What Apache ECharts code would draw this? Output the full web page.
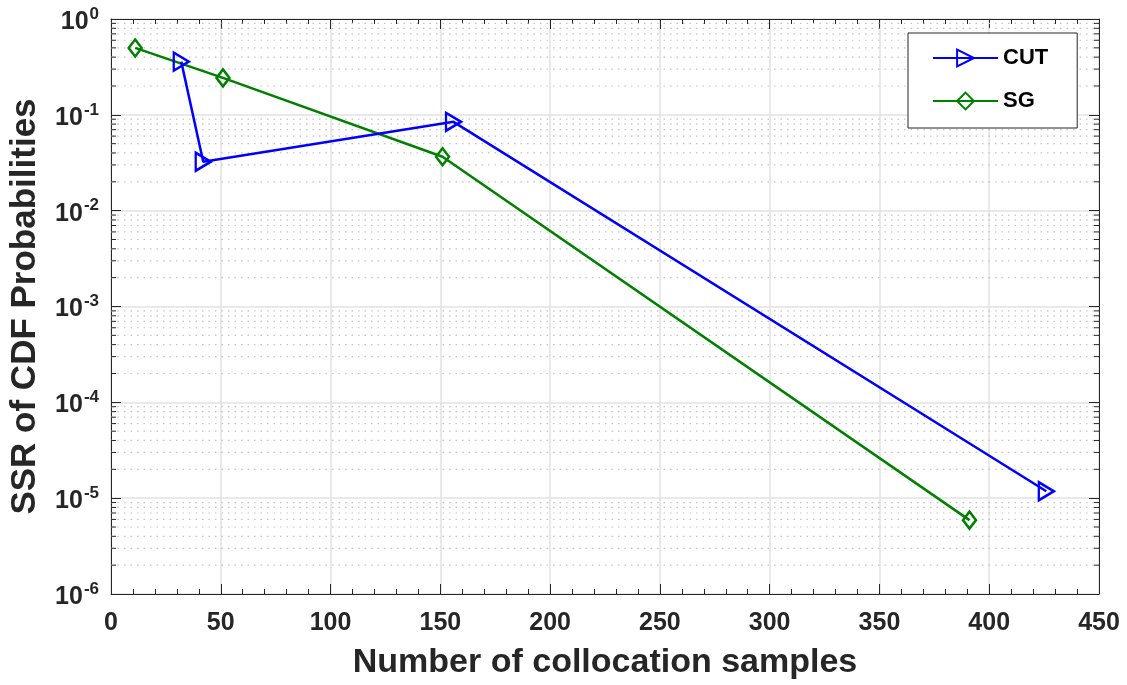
<!DOCTYPE html>
<html>
<head>
<meta charset="utf-8">
<title>SSR of CDF Probabilities</title>
<script src="https://cdn.jsdelivr.net/npm/echarts@6/dist/echarts.min.js"></script>
<style>
  html, body { margin: 0; padding: 0; background: #ffffff; }
  #chart { width: 1127px; height: 685px; }
</style>
</head>
<body>
<div id="chart"></div>
<script>
// Number of collocation samples and the resulting SSR for each method
const cutSamples = [32, 42, 156, 426];
const cutSSR = [0.359, 0.0324, 0.0845, 1.18e-5];
const sgSamples = [11, 51, 151, 391];
const sgSSR = [0.499, 0.243, 0.0365, 5.9e-6];

// Axis ranges and tick settings
const xMin = 0, xMax = 450, xStep = 50;
const yMinExp = -6, yMaxExp = 0;
const seriesNames = ['CUT', 'SG'];

const FONT = '"Liberation Sans", Arial, Helvetica, sans-serif';
const INK = '#262626';

// Minor log positions (2..9 x 10^n) for the dotted grid and minor ticks
const minorLog = [];
for (let e = yMinExp; e < yMaxExp; e++) {
  for (let k = 2; k <= 9; k++) minorLog.push([xMin, k * Math.pow(10, e)]);
}

const pairs = (xs, ys) => xs.map((x, i) => [x, ys[i]]);

const chart = echarts.init(document.getElementById('chart'), null, { renderer: 'canvas' });

const xCommon = {
  type: 'value', min: xMin, max: xMax, interval: xStep,
  axisLine: { show: true, onZero: false, lineStyle: { color: INK, width: 1 } },
  axisTick: { show: true, inside: true, length: 10, lineStyle: { color: INK } },
  minorTick: { show: true, splitNumber: 5, length: 5, lineStyle: { color: INK } }
};
const yCommon = {
  type: 'log', logBase: 10,
  min: Math.pow(10, yMinExp), max: Math.pow(10, yMaxExp), interval: 1,
  axisLine: { show: true, onZero: false, lineStyle: { color: INK, width: 1 } },
  axisTick: { show: true, inside: true, length: 10, lineStyle: { color: INK } }
};

const option = {
  backgroundColor: '#ffffff',
  animation: false,
  grid: { left: 110, right: 28, top: 19, bottom: 90, containLabel: false },
  legend: {
    data: seriesNames,
    orient: 'vertical',
    left: 908, top: 33,
    itemWidth: 65, itemHeight: 21, itemGap: 21, itemTextGap: 6,
    padding: [14, 29, 16, 24],
    backgroundColor: '#ffffff',
    borderColor: INK, borderWidth: 1, borderRadius: 0,
    textStyle: { fontFamily: FONT, fontWeight: 'bold', fontSize: 22, color: '#000000' }
  },
  xAxis: [
    Object.assign({}, xCommon, {
      position: 'bottom',
      name: 'Number of collocation samples',
      nameLocation: 'middle', nameGap: 52,
      nameTextStyle: { fontFamily: FONT, fontWeight: 'bold', fontSize: 34, color: INK },
      axisLabel: { margin: 17, fontFamily: FONT, fontWeight: 'bold', fontSize: 25, color: INK },
      splitLine: { show: true, lineStyle: { color: '#e2e2e2', width: 1.5 } }
    }),
    Object.assign({}, xCommon, {
      position: 'top',
      axisLabel: { show: false },
      splitLine: { show: false }
    })
  ],
  yAxis: [
    Object.assign({}, yCommon, {
      position: 'left',
      name: 'SSR of CDF Probabilities',
      nameLocation: 'middle', nameGap: 68, nameRotate: 90,
      nameTextStyle: { fontFamily: FONT, fontWeight: 'bold', fontSize: 35, color: INK },
      axisLabel: {
        margin: 12,
        padding: [6, 0, 0, 0],
        formatter: function (v) {
          const e = Math.round(Math.log10(v));
          return '{b|10}{e|' + e + '}';
        },
        rich: {
          b: { fontFamily: FONT, fontWeight: 'bold', fontSize: 25, color: INK, lineHeight: 25, verticalAlign: 'bottom' },
          e: { fontFamily: FONT, fontWeight: 'bold', fontSize: 17, color: INK, lineHeight: 17, verticalAlign: 'bottom', padding: [0, 0, 12, 1] }
        }
      },
      splitLine: { show: true, lineStyle: { color: '#e2e2e2', width: 1.5 } }
    }),
    Object.assign({}, yCommon, {
      position: 'right',
      axisLabel: { show: false },
      splitLine: { show: false }
    })
  ],
  series: [
    {
      // dotted minor grid plus minor ticks on both vertical edges
      type: 'custom',
      name: 'minor',
      xAxisIndex: 0, yAxisIndex: 0,
      silent: true, z: 1,
      clip: false,
      data: minorLog,
      renderItem: function (params, api) {
        const v = api.value(1);
        const p0 = api.coord([xMin, v]);
        const p1 = api.coord([xMax, v]);
        return {
          type: 'group',
          children: [
            { type: 'line', shape: { x1: p0[0], y1: p0[1], x2: p1[0], y2: p1[1] },
              style: { stroke: '#c4c4c4', lineWidth: 1.2, lineDash: [1.5, 5] } },
            { type: 'line', shape: { x1: p0[0], y1: p0[1], x2: p0[0] + 5, y2: p0[1] },
              style: { stroke: INK, lineWidth: 1 } },
            { type: 'line', shape: { x1: p1[0] - 5, y1: p1[1], x2: p1[0], y2: p1[1] },
              style: { stroke: INK, lineWidth: 1 } }
          ]
        };
      }
    },
    {
      name: 'CUT',
      type: 'line',
      z: 5,
      data: pairs(cutSamples, cutSSR),
      symbol: 'triangle',
      symbolSize: [18, 15],
      symbolRotate: -90,
      showAllSymbol: true,
      lineStyle: { color: '#0000ff', width: 2.5 },
      itemStyle: { color: 'rgba(255,255,255,0)', borderColor: '#0000ff', borderWidth: 2.5 }
    },
    {
      name: 'SG',
      type: 'line',
      z: 4,
      data: pairs(sgSamples, sgSSR),
      symbol: 'diamond',
      symbolSize: [13, 17],
      showAllSymbol: true,
      lineStyle: { color: '#008000', width: 2.5 },
      itemStyle: { color: 'rgba(255,255,255,0)', borderColor: '#008000', borderWidth: 2.5 }
    }
  ]
};

chart.setOption(option);
</script>
</body>
</html>
